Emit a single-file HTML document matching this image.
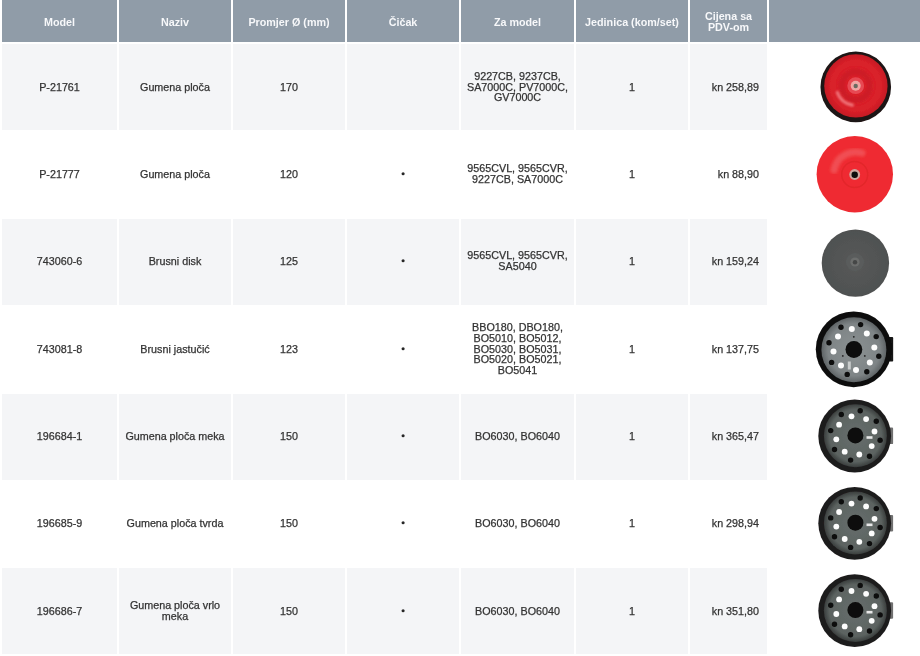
<!DOCTYPE html>
<html><head><meta charset="utf-8"><title>Table</title>
<style>
html,body{margin:0;padding:0;background:#fff;}
body{width:920px;height:656px;position:relative;overflow:hidden;font-family:"Liberation Sans",sans-serif;font-size:10.75px;color:#333;}
.c{position:absolute;display:flex;align-items:center;justify-content:center;text-align:center;line-height:10.8px;padding-top:0;box-sizing:border-box;}
.h{background:#909ca8;color:#fff;font-weight:bold;top:0;height:41.8px;padding-top:3px;}
.s{background:#f4f5f7;}
.r{justify-content:flex-end;text-align:right;padding-right:8px;}
.t{display:block;filter:blur(0.3px);-webkit-text-stroke:0.25px #333;}
.h .t{-webkit-text-stroke:0;color:#f7f8fa;line-height:11.4px;filter:blur(0.35px);}
.b{display:block;width:2.8px;height:2.8px;border-radius:50%;background:#222;position:relative;top:-1.2px;filter:blur(0.3px);}
svg.bs{position:relative;left:0;top:0;display:block;}
svg{position:absolute;left:769px;top:0;}
</style></head><body>
<div class="c h" style="left:2px;width:115px"><span class="t">Model</span></div>
<div class="c h" style="left:119px;width:112px"><span class="t">Naziv</span></div>
<div class="c h" style="left:233px;width:112px"><span class="t">Promjer Ø (mm)</span></div>
<div class="c h" style="left:347px;width:112px"><span class="t">Čičak</span></div>
<div class="c h" style="left:461px;width:113px"><span class="t">Za model</span></div>
<div class="c h" style="left:576px;width:112px"><span class="t">Jedinica (kom/set)</span></div>
<div class="c h" style="left:690px;width:77px"><span class="t">Cijena sa<br>PDV-om</span></div>
<div class="c h" style="left:769px;width:151px"><span class="t"></span></div>
<div class="c s" style="left:2px;top:44px;width:115px;height:86px"><span class="t">P-21761</span></div>
<div class="c s" style="left:119px;top:44px;width:112px;height:86px"><span class="t">Gumena ploča</span></div>
<div class="c s" style="left:233px;top:44px;width:112px;height:86px"><span class="t">170</span></div>
<div class="c s" style="left:347px;top:44px;width:112px;height:86px"><span class="t"></span></div>
<div class="c s" style="left:461px;top:44px;width:113px;height:86px"><span class="t">9227CB, 9237CB,<br>SA7000C, PV7000C,<br>GV7000C</span></div>
<div class="c s" style="left:576px;top:44px;width:112px;height:86px"><span class="t">1</span></div>
<div class="c s r" style="left:690px;top:44px;width:77px;height:86px"><span class="t">kn 258,89</span></div>
<div class="c" style="left:2px;top:131px;width:115px;height:86px"><span class="t">P-21777</span></div>
<div class="c" style="left:119px;top:131px;width:112px;height:86px"><span class="t">Gumena ploča</span></div>
<div class="c" style="left:233px;top:131px;width:112px;height:86px"><span class="t">120</span></div>
<div class="c" style="left:347px;top:131px;width:112px;height:86px"><svg class="bs" width="8" height="8" viewBox="0 0 8 8"><circle cx="4.1" cy="3.8" r="1.55" fill="#262626" filter="url(#b1)"/></svg></div>
<div class="c" style="left:461px;top:131px;width:113px;height:86px"><span class="t">9565CVL, 9565CVR,<br>9227CB, SA7000C</span></div>
<div class="c" style="left:576px;top:131px;width:112px;height:86px"><span class="t">1</span></div>
<div class="c r" style="left:690px;top:131px;width:77px;height:86px"><span class="t">kn 88,90</span></div>
<div class="c s" style="left:2px;top:219px;width:115px;height:86px"><span class="t" style="position:relative;top:-1px">743060-6</span></div>
<div class="c s" style="left:119px;top:219px;width:112px;height:86px"><span class="t" style="position:relative;top:-1px">Brusni disk</span></div>
<div class="c s" style="left:233px;top:219px;width:112px;height:86px"><span class="t" style="position:relative;top:-1px">125</span></div>
<div class="c s" style="left:347px;top:219px;width:112px;height:86px"><svg class="bs" style="position:relative;top:-1px" width="8" height="8" viewBox="0 0 8 8"><circle cx="4.1" cy="3.8" r="1.55" fill="#262626" filter="url(#b1)"/></svg></div>
<div class="c s" style="left:461px;top:219px;width:113px;height:86px"><span class="t" style="position:relative;top:-1px">9565CVL, 9565CVR,<br>SA5040</span></div>
<div class="c s" style="left:576px;top:219px;width:112px;height:86px"><span class="t" style="position:relative;top:-1px">1</span></div>
<div class="c s r" style="left:690px;top:219px;width:77px;height:86px"><span class="t" style="position:relative;top:-1px">kn 159,24</span></div>
<div class="c" style="left:2px;top:306px;width:115px;height:86px"><span class="t">743081-8</span></div>
<div class="c" style="left:119px;top:306px;width:112px;height:86px"><span class="t">Brusni jastučić</span></div>
<div class="c" style="left:233px;top:306px;width:112px;height:86px"><span class="t">123</span></div>
<div class="c" style="left:347px;top:306px;width:112px;height:86px"><svg class="bs" width="8" height="8" viewBox="0 0 8 8"><circle cx="4.1" cy="3.8" r="1.55" fill="#262626" filter="url(#b1)"/></svg></div>
<div class="c" style="left:461px;top:306px;width:113px;height:86px"><span class="t">BBO180, DBO180,<br>BO5010, BO5012,<br>BO5030, BO5031,<br>BO5020, BO5021,<br>BO5041</span></div>
<div class="c" style="left:576px;top:306px;width:112px;height:86px"><span class="t">1</span></div>
<div class="c r" style="left:690px;top:306px;width:77px;height:86px"><span class="t">kn 137,75</span></div>
<div class="c s" style="left:2px;top:394px;width:115px;height:86px"><span class="t" style="position:relative;top:-1px">196684-1</span></div>
<div class="c s" style="left:119px;top:394px;width:112px;height:86px"><span class="t" style="position:relative;top:-1px">Gumena ploča meka</span></div>
<div class="c s" style="left:233px;top:394px;width:112px;height:86px"><span class="t" style="position:relative;top:-1px">150</span></div>
<div class="c s" style="left:347px;top:394px;width:112px;height:86px"><svg class="bs" style="position:relative;top:-1px" width="8" height="8" viewBox="0 0 8 8"><circle cx="4.1" cy="3.8" r="1.55" fill="#262626" filter="url(#b1)"/></svg></div>
<div class="c s" style="left:461px;top:394px;width:113px;height:86px"><span class="t" style="position:relative;top:-1px">BO6030, BO6040</span></div>
<div class="c s" style="left:576px;top:394px;width:112px;height:86px"><span class="t" style="position:relative;top:-1px">1</span></div>
<div class="c s r" style="left:690px;top:394px;width:77px;height:86px"><span class="t" style="position:relative;top:-1px">kn 365,47</span></div>
<div class="c" style="left:2px;top:481px;width:115px;height:86px"><span class="t" style="position:relative;top:-1px">196685-9</span></div>
<div class="c" style="left:119px;top:481px;width:112px;height:86px"><span class="t" style="position:relative;top:-1px">Gumena ploča tvrda</span></div>
<div class="c" style="left:233px;top:481px;width:112px;height:86px"><span class="t" style="position:relative;top:-1px">150</span></div>
<div class="c" style="left:347px;top:481px;width:112px;height:86px"><svg class="bs" style="position:relative;top:-1px" width="8" height="8" viewBox="0 0 8 8"><circle cx="4.1" cy="3.8" r="1.55" fill="#262626" filter="url(#b1)"/></svg></div>
<div class="c" style="left:461px;top:481px;width:113px;height:86px"><span class="t" style="position:relative;top:-1px">BO6030, BO6040</span></div>
<div class="c" style="left:576px;top:481px;width:112px;height:86px"><span class="t" style="position:relative;top:-1px">1</span></div>
<div class="c r" style="left:690px;top:481px;width:77px;height:86px"><span class="t" style="position:relative;top:-1px">kn 298,94</span></div>
<div class="c s" style="left:2px;top:568px;width:115px;height:86px"><span class="t">196686-7</span></div>
<div class="c s" style="left:119px;top:568px;width:112px;height:86px"><span class="t">Gumena ploča vrlo<br>meka</span></div>
<div class="c s" style="left:233px;top:568px;width:112px;height:86px"><span class="t">150</span></div>
<div class="c s" style="left:347px;top:568px;width:112px;height:86px"><svg class="bs" width="8" height="8" viewBox="0 0 8 8"><circle cx="4.1" cy="3.8" r="1.55" fill="#262626" filter="url(#b1)"/></svg></div>
<div class="c s" style="left:461px;top:568px;width:113px;height:86px"><span class="t">BO6030, BO6040</span></div>
<div class="c s" style="left:576px;top:568px;width:112px;height:86px"><span class="t">1</span></div>
<div class="c s r" style="left:690px;top:568px;width:77px;height:86px"><span class="t">kn 351,80</span></div>
<svg width="151" height="656" viewBox="769 0 151 656">
<!--IMAGES-->
<defs>
<filter id="b1" x="-10%" y="-10%" width="120%" height="120%"><feGaussianBlur stdDeviation="0.7"/></filter>
<filter id="b3" x="-30%" y="-30%" width="160%" height="160%"><feGaussianBlur stdDeviation="1.0"/></filter>
<filter id="b2" x="-20%" y="-20%" width="140%" height="140%"><feGaussianBlur stdDeviation="1.6"/></filter>
<radialGradient id="g1" cx="0.5" cy="0.5" r="0.5"><stop offset="0" stop-color="#db2029"/><stop offset="0.8" stop-color="#d92029"/><stop offset="1" stop-color="#c41c24"/></radialGradient>
<radialGradient id="gp4" cx="0.5" cy="0.5" r="0.5"><stop offset="0" stop-color="#8b9192"/><stop offset="0.8" stop-color="#7e8486"/><stop offset="1" stop-color="#5f6466"/></radialGradient>
<radialGradient id="gp5" cx="0.5" cy="0.5" r="0.5"><stop offset="0" stop-color="#676e6c"/><stop offset="0.82" stop-color="#5c6361"/><stop offset="1" stop-color="#3a3e3d"/></radialGradient>
<radialGradient id="g3" cx="0.5" cy="0.5" r="0.5"><stop offset="0" stop-color="#5a5c5b"/><stop offset="0.35" stop-color="#545656"/><stop offset="1" stop-color="#4f5151"/></radialGradient>
<clipPath id="cp"><rect x="769" y="0" width="124.5" height="656"/></clipPath>
</defs>
<g clip-path="url(#cp)">
<g filter="url(#b1)">
<circle cx="855.75" cy="86.9" r="35.3" fill="#1d1313"/>
<circle cx="855.9" cy="85.9" r="31.7" fill="url(#g1)"/>
<circle cx="855.7" cy="85.8" r="14" fill="none" stroke="#c91d25" stroke-width="6" filter="url(#b2)" opacity="0.8"/>
<path d="M837.3 92.5 A19.6 19.6 0 0 0 852.3 105.1" fill="none" stroke="#f0747a" stroke-width="3.2" stroke-linecap="round" filter="url(#b3)"/>
<circle cx="855.7" cy="85.7" r="8.4" fill="#e74a52"/>
<circle cx="855.7" cy="85.7" r="5" fill="#f0a6a3"/>
<circle cx="855.7" cy="86" r="2.2" fill="#6b6a60"/>
</g>
<g filter="url(#b1)">
<circle cx="854.8" cy="174.2" r="38.2" fill="#ef2b31"/>
<path d="M834 170 A22 22 0 0 1 862 153" fill="none" stroke="#f1545a" stroke-width="7" opacity="0.85" stroke-linecap="round" filter="url(#b2)"/>
<circle cx="854.7" cy="174.5" r="13" fill="none" stroke="#e3262c" stroke-width="1.5"/>
<circle cx="854.7" cy="174.5" r="5.4" fill="#cfa6a0"/>
<circle cx="854.7" cy="174.8" r="3.2" fill="#0e0a0a"/>
</g>
<g filter="url(#b1)">
<circle cx="855.4" cy="263.1" r="33.7" fill="url(#g3)"/>
<circle cx="855" cy="262" r="9" fill="#5a5c5c"/>
<circle cx="855" cy="262" r="4.6" fill="#6c6e6d"/>
<circle cx="855" cy="262.2" r="2.2" fill="#454646"/>
</g>
<g filter="url(#b1)">
<rect x="886" y="337" width="7.3" height="24.5" rx="1.2" fill="#121212"/>
<circle cx="853.7" cy="349.3" r="37.9" fill="#0d0d0d"/>
<circle cx="853.9" cy="349.8" r="32.5" fill="url(#gp4)"/>
<circle cx="853.9" cy="349.5" r="8.4" fill="#0b0b0b"/>
<circle cx="851.8" cy="329.1" r="3.0" fill="#fdfdfd"/>
<circle cx="866.8" cy="333.6" r="3.0" fill="#fdfdfd"/>
<circle cx="874.3" cy="347.4" r="3.0" fill="#fdfdfd"/>
<circle cx="869.8" cy="362.4" r="3.0" fill="#fdfdfd"/>
<circle cx="856.0" cy="369.9" r="3.0" fill="#fdfdfd"/>
<circle cx="841.0" cy="365.4" r="3.0" fill="#fdfdfd"/>
<circle cx="833.5" cy="351.6" r="3.0" fill="#fdfdfd"/>
<circle cx="838.0" cy="336.6" r="3.0" fill="#fdfdfd"/>
<circle cx="841.0" cy="327.2" r="2.7" fill="#0c0c0c"/>
<circle cx="860.6" cy="324.6" r="2.7" fill="#0c0c0c"/>
<circle cx="876.2" cy="336.6" r="2.7" fill="#0c0c0c"/>
<circle cx="878.8" cy="356.2" r="2.7" fill="#0c0c0c"/>
<circle cx="866.8" cy="371.8" r="2.7" fill="#0c0c0c"/>
<circle cx="847.2" cy="374.4" r="2.7" fill="#0c0c0c"/>
<circle cx="831.6" cy="362.4" r="2.7" fill="#0c0c0c"/>
<circle cx="829.0" cy="342.8" r="2.7" fill="#0c0c0c"/>
<rect x="847.8" y="361.5" width="3" height="8" fill="#c9cccc"/><circle cx="853.8" cy="336.8" r="0.9" fill="#222"/><circle cx="842.8" cy="355.9" r="0.9" fill="#222"/><circle cx="864.8" cy="355.9" r="0.9" fill="#222"/>
</g>
<g filter="url(#b1)">
<rect x="886" y="427.6" width="7.2" height="16.5" rx="1.2" fill="#707070"/>
<circle cx="854.7" cy="436.0" r="36.4" fill="#1e1c1d"/>
<circle cx="855.4" cy="435.70000000000005" r="31.5" fill="url(#gp5)"/>
<circle cx="855.4" cy="435.40000000000003" r="8" fill="#0b0b0b"/>
<circle cx="851.5" cy="416.3" r="2.9" fill="#fdfdfd"/>
<circle cx="866.1" cy="419.1" r="2.9" fill="#fdfdfd"/>
<circle cx="874.5" cy="431.5" r="2.9" fill="#fdfdfd"/>
<circle cx="871.7" cy="446.1" r="2.9" fill="#fdfdfd"/>
<circle cx="859.3" cy="454.5" r="2.9" fill="#fdfdfd"/>
<circle cx="844.7" cy="451.7" r="2.9" fill="#fdfdfd"/>
<circle cx="836.3" cy="439.3" r="2.9" fill="#fdfdfd"/>
<circle cx="839.1" cy="424.7" r="2.9" fill="#fdfdfd"/>
<circle cx="841.3" cy="414.5" r="2.7" fill="#0c0c0c"/>
<circle cx="860.2" cy="410.7" r="2.7" fill="#0c0c0c"/>
<circle cx="876.3" cy="421.3" r="2.7" fill="#0c0c0c"/>
<circle cx="880.1" cy="440.2" r="2.7" fill="#0c0c0c"/>
<circle cx="869.5" cy="456.3" r="2.7" fill="#0c0c0c"/>
<circle cx="850.6" cy="460.1" r="2.7" fill="#0c0c0c"/>
<circle cx="834.5" cy="449.5" r="2.7" fill="#0c0c0c"/>
<circle cx="830.7" cy="430.6" r="2.7" fill="#0c0c0c"/>
<rect x="866.5" y="436.2" width="6" height="2.6" fill="#e8e8e8"/>
</g>
<g filter="url(#b1)">
<rect x="886" y="514.9" width="7.2" height="16.5" rx="1.2" fill="#707070"/>
<circle cx="854.7" cy="523.3" r="36.4" fill="#1e1c1d"/>
<circle cx="855.4" cy="522.9999999999999" r="31.5" fill="url(#gp5)"/>
<circle cx="855.4" cy="522.6999999999999" r="8" fill="#0b0b0b"/>
<circle cx="851.5" cy="503.6" r="2.9" fill="#fdfdfd"/>
<circle cx="866.1" cy="506.4" r="2.9" fill="#fdfdfd"/>
<circle cx="874.5" cy="518.8" r="2.9" fill="#fdfdfd"/>
<circle cx="871.7" cy="533.4" r="2.9" fill="#fdfdfd"/>
<circle cx="859.3" cy="541.8" r="2.9" fill="#fdfdfd"/>
<circle cx="844.7" cy="539.0" r="2.9" fill="#fdfdfd"/>
<circle cx="836.3" cy="526.6" r="2.9" fill="#fdfdfd"/>
<circle cx="839.1" cy="512.0" r="2.9" fill="#fdfdfd"/>
<circle cx="841.3" cy="501.8" r="2.7" fill="#0c0c0c"/>
<circle cx="860.2" cy="498.0" r="2.7" fill="#0c0c0c"/>
<circle cx="876.3" cy="508.6" r="2.7" fill="#0c0c0c"/>
<circle cx="880.1" cy="527.5" r="2.7" fill="#0c0c0c"/>
<circle cx="869.5" cy="543.6" r="2.7" fill="#0c0c0c"/>
<circle cx="850.6" cy="547.4" r="2.7" fill="#0c0c0c"/>
<circle cx="834.5" cy="536.8" r="2.7" fill="#0c0c0c"/>
<circle cx="830.7" cy="517.9" r="2.7" fill="#0c0c0c"/>
<rect x="866.5" y="523.5" width="6" height="2.6" fill="#e8e8e8"/>
</g>
<g filter="url(#b1)">
<rect x="886" y="602.3" width="7.2" height="16.5" rx="1.2" fill="#707070"/>
<circle cx="854.7" cy="610.6999999999999" r="36.4" fill="#1e1c1d"/>
<circle cx="855.4" cy="610.3999999999999" r="31.5" fill="url(#gp5)"/>
<circle cx="855.4" cy="610.0999999999999" r="8" fill="#0b0b0b"/>
<circle cx="851.5" cy="591.0" r="2.9" fill="#fdfdfd"/>
<circle cx="866.1" cy="593.8" r="2.9" fill="#fdfdfd"/>
<circle cx="874.5" cy="606.2" r="2.9" fill="#fdfdfd"/>
<circle cx="871.7" cy="620.8" r="2.9" fill="#fdfdfd"/>
<circle cx="859.3" cy="629.2" r="2.9" fill="#fdfdfd"/>
<circle cx="844.7" cy="626.4" r="2.9" fill="#fdfdfd"/>
<circle cx="836.3" cy="614.0" r="2.9" fill="#fdfdfd"/>
<circle cx="839.1" cy="599.4" r="2.9" fill="#fdfdfd"/>
<circle cx="841.3" cy="589.2" r="2.7" fill="#0c0c0c"/>
<circle cx="860.2" cy="585.4" r="2.7" fill="#0c0c0c"/>
<circle cx="876.3" cy="596.0" r="2.7" fill="#0c0c0c"/>
<circle cx="880.1" cy="614.9" r="2.7" fill="#0c0c0c"/>
<circle cx="869.5" cy="631.0" r="2.7" fill="#0c0c0c"/>
<circle cx="850.6" cy="634.8" r="2.7" fill="#0c0c0c"/>
<circle cx="834.5" cy="624.2" r="2.7" fill="#0c0c0c"/>
<circle cx="830.7" cy="605.3" r="2.7" fill="#0c0c0c"/>
<rect x="866.5" y="610.9" width="6" height="2.6" fill="#e8e8e8"/>
</g>
</g>
</svg>
</body></html>
